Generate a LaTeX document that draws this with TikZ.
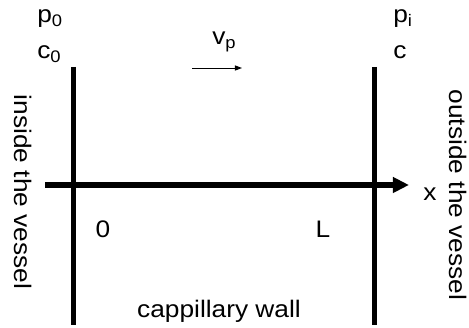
\documentclass[tikz,border=0pt]{standalone}
\usepackage{fontspec}
\setmainfont{Liberation Sans}[FakeStretch=1.1]
\usetikzlibrary{arrows.meta}

\begin{document}
\begin{tikzpicture}[x=0.025cm,y=0.025cm,every node/.style={font=\fontsize{17}{20}\selectfont,inner sep=0pt},
  wall/.style={line width=3.6pt},
  axis/.style={line width=4.3pt,-{Triangle[length=0.4cm,width=0.375cm]}},
  flow/.style={line width=0.7pt,-{Triangle[length=5pt,width=3.6pt]}}]
\useasboundingbox (0,0) rectangle (469,328);
\coordinate (lwtop) at (73.5,261);
\coordinate (lwbot) at (73.5,3);
\coordinate (rwtop) at (374.5,261);
\coordinate (rwbot) at (374.5,3);
\draw[wall] (lwtop) -- (lwbot);
\draw[wall] (rwtop) -- (rwbot);
\coordinate (xstart) at (45,143);
\coordinate (xend) at (409,143);
\draw[axis] (xstart) -- (xend);
\node[anchor=base west] (pzero) at (37,305) {p\textsubscript{0}};
\node[anchor=base west] (czero) at (37,269) {c\textsubscript{0}};
\node[anchor=base west] (pin) at (393,305) {p\textsubscript{i}};
\node[anchor=base west] (cin) at (393,269) {c};
\node[anchor=base west] (vp) at (212,283) {v\textsubscript{p}};
\coordinate (flowstart) at (192,260);
\coordinate (flowend) at (242,260);
\draw[flow] (flowstart) -- (flowend);
\node (xlab) at (430,134) {x};
\node (zero) at (103,99) {0};
\node (len) at (323,99) {L};
\node[anchor=base] (wallname) at (219,10) {cappillary wall};
\node[rotate=-90] (inside) at (23,136) {inside the vessel};
\node[rotate=-90] (outside) at (458,133) {outside the vessel};
\end{tikzpicture}
\end{document}
